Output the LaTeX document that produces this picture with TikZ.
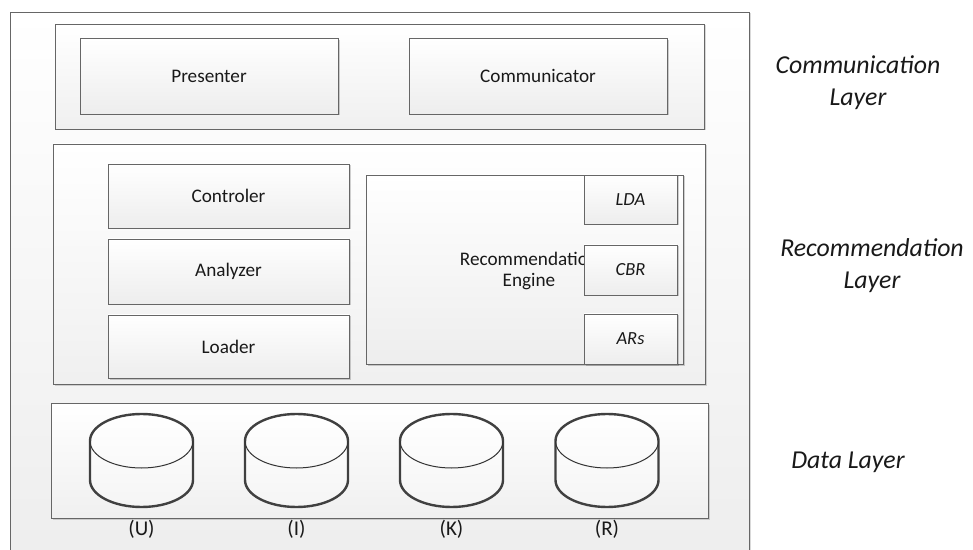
\documentclass[tikz,border=0pt]{standalone}
\usepackage{fontspec}
\setmainfont{Carlito}
\usetikzlibrary{shadows}
\begin{document}
\begin{tikzpicture}[x=1pt,y=1pt,
  every node/.style={inner sep=0pt, outer sep=0pt, text=black!90},
  frame/.style={draw=black!60, line width=0.8pt, top color=white, bottom color=black!7,
    drop shadow={shadow xshift=1.5pt, shadow yshift=-1.5pt, fill=black, opacity=0.15}},
  layerbox/.style={draw=black!60, line width=0.8pt, top color=white, bottom color=black!6,
    drop shadow={shadow xshift=1.5pt, shadow yshift=-1.5pt, fill=black, opacity=0.15}},
  box/.style={draw=black!60, line width=0.8pt, top color=white, bottom color=black!7,
    drop shadow={shadow xshift=1.5pt, shadow yshift=-1.5pt, fill=black, opacity=0.18},
    font=\fontsize{19.2}{20.5}\selectfont, align=center},
  subbox/.style={box, font=\itshape\fontsize{18.5}{20}\selectfont},
  lbl/.style={font=\itshape\fontsize{25.8}{32}\selectfont, align=center},
  dblbl/.style={font=\fontsize{21}{22}\selectfont},
  cyl/.style={draw=black!75, line width=2.4pt, top color=white, bottom color=black!4},
  cylinner/.style={draw=black!80, line width=1pt}
]
\useasboundingbox (0,0) rectangle (973,549);
\clip (0,0) rectangle (973,549);

% outer frame
\node[frame, minimum width=739, minimum height=560, anchor=north west] (outer) at (10,537) {};

% communication layer
\node[layerbox, minimum width=649, minimum height=105, anchor=north west] (comm) at (55,525) {};
\node[box, minimum width=258, minimum height=75.5] (pres) at (209,472.75) {Presenter};
\node[box, minimum width=258, minimum height=75.5] (commu) at (538,472.75) {Communicator};

% recommendation layer
\node[layerbox, minimum width=652, minimum height=240, anchor=north west] (rec) at (53,405) {};
\node[box, minimum width=241, minimum height=64] (ctrl) at (228.5,353) {Controler};
\node[box, minimum width=241, minimum height=65] (anal) at (228.5,277.5) {Analyzer};
\node[box, minimum width=241, minimum height=63] (load) at (228.5,202.5) {Loader};
\node[box, minimum width=317, minimum height=189] (eng) at (524.5,279.5) {};
\node[font=\fontsize{19.2}{20.5}\selectfont, align=center] (engtxt) at (529,278) {Recommendation\\Engine};
\node[subbox, minimum width=93, minimum height=49] (lda) at (630.5,349.5) {LDA};
\node[subbox, minimum width=93, minimum height=50] (cbr) at (630.5,279) {CBR};
\node[subbox, minimum width=93, minimum height=50] (ars) at (630.5,210) {ARs};

% data layer
\node[layerbox, minimum width=657, minimum height=115, anchor=north west] (data) at (51,146) {};
\foreach \cx/\nm/\lab in {141.5/U/{(U)}, 296.5/I/{(I)}, 451.5/K/{(K)}, 607/R/{(R)}}{
  \filldraw[cyl] (\cx-51.5,108) -- (\cx-51.5,69)
    arc[start angle=180, end angle=360, x radius=51.5, y radius=27]
    -- (\cx+51.5,108)
    arc[start angle=0, end angle=180, x radius=51.5, y radius=27] -- cycle;
  \draw[cylinner] (\cx-51.5,108) arc[start angle=180, end angle=360, x radius=51.5, y radius=27];
  \node (db\nm) at (\cx,88.5) {};
  \node[dblbl] (lab\nm) at (\cx,20) {\lab};
}

% layer labels
\node[lbl] (lcomm) at (858,466) {Communication\\Layer};
\node[lbl] (lrec) at (872,283) {Recommendation\\Layer};
\node[lbl] (ldata) at (848,87) {Data Layer};
\end{tikzpicture}
\end{document}
